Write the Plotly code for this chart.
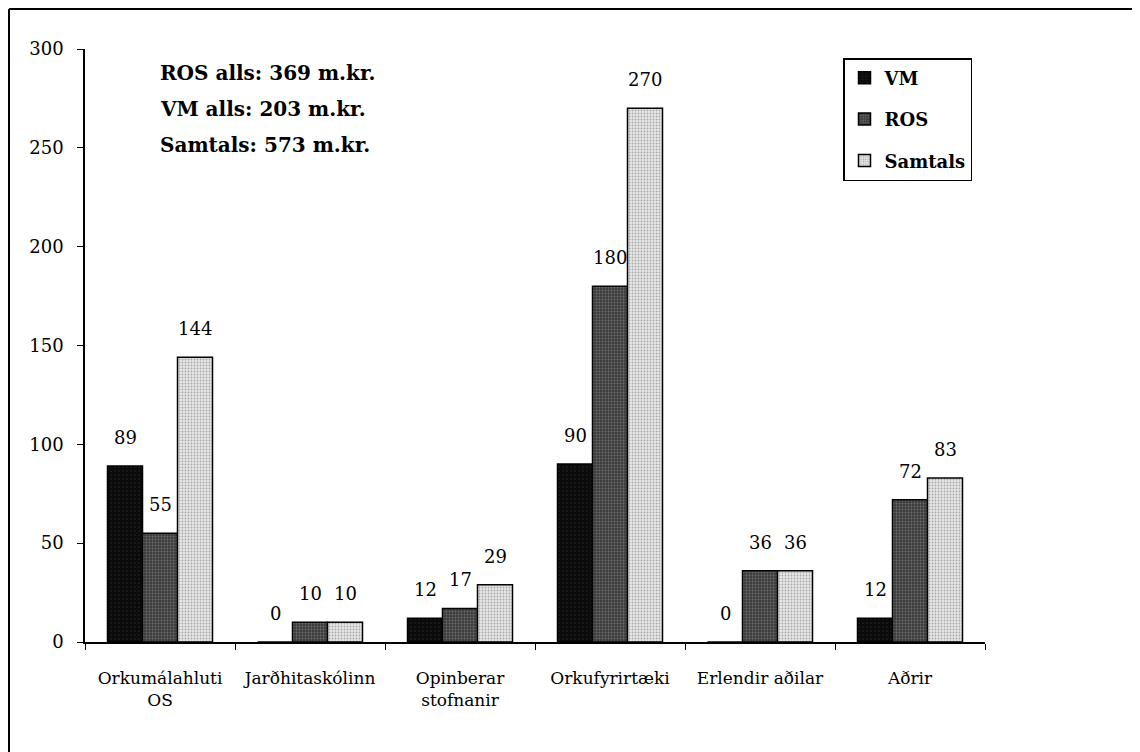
import plotly.graph_objects as go

categories = ["Orkumálahluti<br>OS", "Jarðhitaskólinn", "Opinberar<br>stofnanir",
              "Orkufyrirtæki", "Erlendir aðilar", "Aðrir"]
vm = [89, 0, 12, 90, 0, 12]
ros = [55, 10, 17, 180, 36, 72]
samtals = [144, 10, 29, 270, 36, 83]
summary_lines = ["ROS alls: 369 m.kr.", "VM alls: 203 m.kr.", "Samtals: 573 m.kr."]

FONT = "DejaVu Serif"

OFF = 8
FW, FH = 1140 - OFF, 752 - OFF
L, R, T, B = 85, 985, 49, 642
W, H = R - L, B - T
BARGAP = 0.3
BAR_PX = (W / len(categories)) * (1 - BARGAP) / 3

def px(x):
    return (x - L) / W

def py(y):
    return (B - y) / H

fig = go.Figure()
series = [
    ("VM", vm, dict(color="#0b0b0b", pattern=dict(shape=".", fgcolor="#3a3a3a", bgcolor="#0b0b0b", size=4, solidity=0.15))),
    ("ROS", ros, dict(color="#4a4a4a", pattern=dict(shape=".", fgcolor="#a0a0a0", bgcolor="#3c3c3c", size=3, solidity=0.3))),
    ("Samtals", samtals, dict(color="#c8c8c8", pattern=dict(shape=".", fgcolor="#6a6a6a", bgcolor="#e6e6e6", size=3, solidity=0.3))),
]
annotations = []
for i, (name, vals, mk) in enumerate(series):
    fig.add_trace(go.Bar(
        name="<b>" + name + "</b>", x=categories, y=vals,
        legendgroup=name,
        marker=dict(color=mk["color"], pattern=mk["pattern"], line=dict(color="black", width=1.5)),
    ))
    for c, v in zip(categories, vals):
        annotations.append(dict(
            text=str(v), x=c, y=v, xref="x", yref="y", showarrow=False,
            xshift=(i - 1) * BAR_PX, yshift=16, yanchor="bottom", xanchor="center",
            font=dict(family=FONT, size=18, color="black"),
        ))

for k, line in enumerate(summary_lines):
    annotations.append(dict(
        text="<b>" + line + "</b>", xref="paper", yref="paper",
        x=px(158), y=py(73 + 36 * k), xanchor="left", yanchor="middle",
        showarrow=False, font=dict(family=FONT, size=20, color="black"),
    ))

fig.update_layout(
    width=FW, height=FH,
    margin=dict(l=L - OFF, r=FW + OFF - R, t=T - OFF, b=FH + OFF - B),
    paper_bgcolor="white", plot_bgcolor="white",
    barmode="group", bargap=BARGAP, bargroupgap=0.0,
    font=dict(family=FONT, size=17, color="black"),
    showlegend=True,
    legend=dict(
        x=px(843), y=py(58), xanchor="left", yanchor="top",
        bordercolor="black", borderwidth=1.5, bgcolor="white",
        font=dict(family=FONT, size=18, color="black"),
        tracegroupgap=15, itemwidth=30,
    ),
    annotations=annotations,
    shapes=[
        dict(type="line", xref="paper", yref="paper", x0=px(OFF + 1), x1=px(1140), y0=py(OFF + 1), y1=py(OFF + 1),
             line=dict(color="black", width=2)),
        dict(type="line", xref="paper", yref="paper", x0=px(OFF + 1), x1=px(OFF + 1), y0=py(OFF + 1), y1=py(752),
             line=dict(color="black", width=2)),
    ],
)
fig.update_xaxes(
    showline=True, linecolor="black", linewidth=1.5,
    ticks="outside", ticklen=6, tickcolor="black", tickson="boundaries",
    ticklabelstandoff=20,
    tickfont=dict(family=FONT, size=17, color="black"), showgrid=False,
)
fig.update_yaxes(
    range=[0, 300], tickvals=[0, 50, 100, 150, 200, 250, 300],
    showline=True, linecolor="black", linewidth=1.5,
    ticks="outside", ticklen=6, tickcolor="black", ticklabelstandoff=10,
    tickfont=dict(family=FONT, size=18, color="black"), showgrid=False, zeroline=False,
)
fig.write_html("out.html")
